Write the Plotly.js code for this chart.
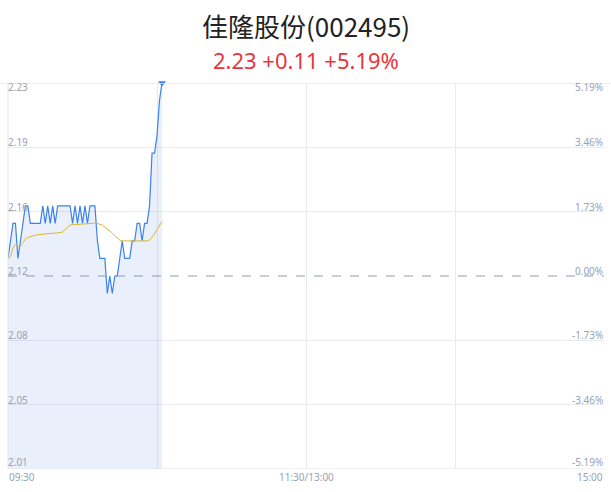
<!DOCTYPE html>
<html>
<head>
<meta charset="utf-8">
<script src="https://cdn.plot.ly/plotly-3.0.1.min.js"></script>
<style>
  html, body { margin: 0; padding: 0; background: #fff; }
  #chart { width: 611px; height: 492px; }
</style>
</head>
<body>
<div id="chart"></div>
<script>
// intraday minute data, 09:30 onwards (minute index)
const prevClose = 2.12;
const lastPrice = 2.23;
const priceChange = "+0.11";
const pctChange = "+5.19%";
const pctTicks = [5.19, 3.46, 1.73, 0, -1.73, -3.46, -5.19];
const timeTickVals = [0, 120, 240];
const timeTickText = ["09:30", "11:30/13:00", "15:00"];
const gridMinutes = [60, 120, 180];

const price = [
  2.13, 2.14, 2.15, 2.15, 2.13, 2.14, 2.15, 2.16, 2.16, 2.15,
  2.15, 2.15, 2.15, 2.15, 2.16, 2.15, 2.16, 2.15, 2.16, 2.15,
  2.16, 2.16, 2.16, 2.16, 2.16, 2.16, 2.15, 2.16, 2.15, 2.16,
  2.15, 2.16, 2.15, 2.16, 2.16, 2.16, 2.14, 2.13, 2.13, 2.13,
  2.11, 2.12, 2.11, 2.12, 2.12, 2.13, 2.14, 2.13, 2.13, 2.13,
  2.14, 2.14, 2.15, 2.15, 2.14, 2.15, 2.15, 2.16, 2.19, 2.19,
  2.20, 2.22, 2.23
];
const avgPrice = [
  2.130, 2.131, 2.136, 2.138, 2.137, 2.137, 2.139, 2.141, 2.142, 2.1425,
  2.143, 2.1432, 2.1435, 2.1437, 2.1439, 2.144, 2.1442, 2.1443, 2.1444, 2.1445,
  2.1446, 2.1447, 2.145, 2.1465, 2.148, 2.149, 2.1492, 2.1493, 2.1494, 2.1494,
  2.1495, 2.1495, 2.1495, 2.1495, 2.150, 2.1502, 2.150, 2.1495, 2.149, 2.148,
  2.147, 2.146, 2.1445, 2.143, 2.1415, 2.1405, 2.140, 2.140, 2.140, 2.140,
  2.140, 2.140, 2.140, 2.140, 2.140, 2.140, 2.140, 2.1405, 2.142, 2.144,
  2.1465, 2.149, 2.151
];
const minutes = price.map((p, i) => i);

const yLow = prevClose * (1 + pctTicks[pctTicks.length - 1] / 100);
const yHigh = prevClose * (1 + pctTicks[0] / 100);
const labelFont = { family: "Noto Sans, DejaVu Sans, sans-serif", size: 10, color: "#9aa1b3" };

let annotations = [];
pctTicks.forEach((p, i) => {
  let y = prevClose * (1 + p / 100);
  let top = i == 0;
  let shift = top ? 4 : (i == pctTicks.length - 1 ? -1 : -3);
  annotations.push({ xref: "paper", yref: "y", x: 0, y: y, xanchor: "left", yanchor: top ? "top" : "bottom",
    text: y.toFixed(2), showarrow: false, font: labelFont, xshift: -1, yshift: shift, borderpad: 0 });
  annotations.push({ xref: "paper", yref: "y", x: 1, y: y, xanchor: "right", yanchor: top ? "top" : "bottom",
    text: p.toFixed(2) + "%", showarrow: false, font: labelFont, xshift: 0, yshift: shift, borderpad: 0 });
});
timeTickVals.forEach((t, i) => {
  annotations.push({ xref: "x", yref: "paper", x: t, y: 0, yanchor: "top",
    xanchor: i == 0 ? "left" : (i == timeTickVals.length - 1 ? "right" : "center"),
    text: timeTickText[i], showarrow: false, font: labelFont, yshift: 0, borderpad: 0 });
});
annotations.push({ xref: "paper", yref: "paper", x: 0.5, y: 1, yanchor: "bottom", yshift: 37,
  text: "佳隆股份(002495)", showarrow: false,
  font: { family: "Noto Sans CJK SC, sans-serif", size: 26, color: "#222222" } });
annotations.push({ xref: "paper", yref: "paper", x: 0.5, y: 1, yanchor: "bottom", yshift: 6,
  text: lastPrice.toFixed(2) + " " + priceChange + " " + pctChange, showarrow: false,
  font: { family: "Noto Sans, sans-serif", size: 22, color: "#e8353a" } });

let shapes = [
  { type: "line", xref: "paper", yref: "y", x0: -0.02, x1: 1.02, y0: yHigh, y1: yHigh, line: { color: "#e4e6ec", width: 1.5 } },
  { type: "line", xref: "paper", yref: "y", x0: 0, x1: 1, y0: yLow, y1: yLow, line: { color: "#e4e6ec", width: 1 } },
  { type: "line", xref: "paper", yref: "paper", x0: 0, x1: 0, y0: 0, y1: 1, line: { color: "#e4e6ec", width: 1 } },
  { type: "line", xref: "paper", yref: "y", x0: 0, x1: 1, y0: prevClose, y1: prevClose, line: { color: "#8e9ab4", width: 1, dash: "dash" } }
];

let gridY = pctTicks.filter(p => Math.abs(p) > 0 && Math.abs(p) < 5).map(p => prevClose * (1 + p / 100));

let data = [
  { x: minutes, y: price, type: "scatter", mode: "lines", line: { color: "#3b82f0", width: 1.2 },
    fill: "tozeroy", fillcolor: "rgba(59,120,230,0.11)", hoverinfo: "none" },
  { x: minutes, y: avgPrice, type: "scatter", mode: "lines", line: { color: "#d8b62e", width: 1 }, hoverinfo: "none" },
  { x: [minutes[minutes.length - 1]], y: [price[price.length - 1]], type: "scatter", mode: "markers",
    marker: { symbol: "triangle-down", size: 7, color: "#3b82f0" }, cliponaxis: false, hoverinfo: "none" }
];

let layout = {
  width: 611,
  height: 492,
  margin: { l: 8, r: 7, t: 83, b: 23 },
  paper_bgcolor: "#ffffff",
  plot_bgcolor: "#ffffff",
  showlegend: false,
  xaxis: { range: [0, 240], tickvals: gridMinutes, showticklabels: false, showgrid: true,
    gridcolor: "#e8eaef", gridwidth: 1, zeroline: false, showline: false, ticks: "", fixedrange: true },
  yaxis: { range: [yLow, yHigh], tickvals: gridY, showticklabels: false, showgrid: true,
    gridcolor: "#e8eaef", gridwidth: 1, zeroline: false, showline: false, ticks: "", fixedrange: true },
  annotations: annotations,
  shapes: shapes
};

Plotly.newPlot("chart", data, layout, { displayModeBar: false, staticPlot: true });
</script>
</body>
</html>
